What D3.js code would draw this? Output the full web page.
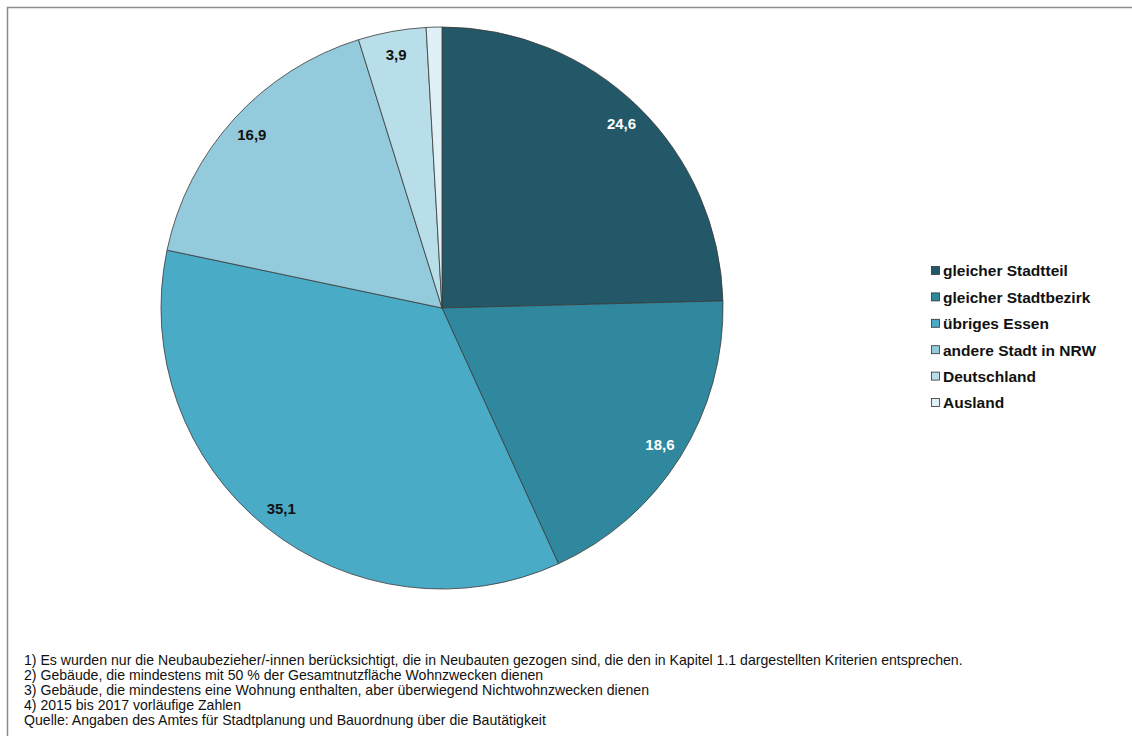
<!DOCTYPE html>
<html>
<head>
<meta charset="utf-8">
<script src="https://cdn.jsdelivr.net/npm/d3@7"></script>
<style>
  body { margin: 0; background: #fff; }
  svg { display: block; font-family: "Liberation Sans", Arial, sans-serif; }
</style>
</head>
<body>
<div id="chart"></div>
<script>
// Data
const categories = ['gleicher Stadtteil', 'gleicher Stadtbezirk', 'übriges Essen', 'andere Stadt in NRW', 'Deutschland', 'Ausland']
const values = [24.6, 18.6, 35.1, 16.9, 3.9, 0.9]
const labels = ['24,6', '18,6', '35,1', '16,9', '3,9', '']
const colors = ['#235868', '#2f889e', '#4aabc6', '#93cbdc', '#b7dee9', '#dff0f6']
const labelColors = ['#fff', '#fff', '#111', '#111', '#111', '#111']
const notes = [
  '1) Es wurden nur die Neubaubezieher/-innen berücksichtigt, die in Neubauten gezogen sind, die den in Kapitel 1.1 dargestellten Kriterien entsprechen.',
  '2) Gebäude, die mindestens mit 50 % der Gesamtnutzfläche Wohnzwecken dienen',
  '3) Gebäude, die mindestens eine Wohnung enthalten, aber überwiegend Nichtwohnzwecken dienen',
  '4) 2015 bis 2017 vorläufige Zahlen',
  'Quelle: Angaben des Amtes für Stadtplanung und Bauordnung über die Bautätigkeit'
]

const total_width = 1132
const total_height = 736

const svg = d3.select('#chart').append('svg')
  .attr('width', total_width)
  .attr('height', total_height)

// frame (only top and left edges visible)
svg.append('rect')
  .attr('x', 7.5)
  .attr('y', 7.5)
  .attr('width', total_width + 20)
  .attr('height', total_height + 20)
  .attr('fill', 'none')
  .attr('stroke', '#8c8c8c')
  .attr('stroke-width', 1.5)

const cx = 442
const cy = 308
const radius = 281

const data = categories.map((c, i) => ({ category: c, value: values[i], label: labels[i], i: i }))

const pie = d3.pie().sort(null).value(d => d.value)
const arc = d3.arc().innerRadius(0).outerRadius(radius)
const labelArc = d3.arc().innerRadius(radius * 0.915).outerRadius(radius * 0.915)

const g = svg.append('g')
  .attr('transform', `translate(${cx}, ${cy})`)

const arcs = pie(data)

g.selectAll('path')
  .data(arcs)
  .enter()
  .append('path')
  .attr('d', arc)
  .attr('fill', d => colors[d.data.i])
  .attr('stroke', '#3a3a3a')
  .attr('stroke-width', 0.8)

g.selectAll('text')
  .data(arcs)
  .enter()
  .append('text')
  .attr('transform', d => `translate(${labelArc.centroid(d)})`)
  .attr('text-anchor', 'middle')
  .attr('dy', '0.35em')
  .attr('font-size', '15px')
  .attr('font-weight', 'bold')
  .attr('fill', d => labelColors[d.data.i])
  .text(d => d.data.label)

// Legend
const legendY = d3.scalePoint()
  .domain(categories)
  .range([271, 403])

const legend = svg.append('g')
  .selectAll('g')
  .data(categories)
  .enter()
  .append('g')
  .attr('transform', d => `translate(931, ${legendY(d)})`)

legend.append('rect')
  .attr('x', 0.5)
  .attr('y', -4.5)
  .attr('width', 8)
  .attr('height', 8)
  .attr('fill', (d, i) => colors[i])
  .attr('stroke', '#333')
  .attr('stroke-width', 0.8)

legend.append('text')
  .attr('x', 12)
  .attr('dy', '0.35em')
  .attr('font-size', '15.5px')
  .attr('font-weight', 'bold')
  .attr('fill', '#111')
  .text(d => d)

// Footnotes
svg.append('g')
  .selectAll('text')
  .data(notes)
  .enter()
  .append('text')
  .attr('x', 24)
  .attr('y', (d, i) => 665 + i * 15)
  .attr('font-size', '14.1px')
  .attr('fill', '#111')
  .text(d => d)
</script>
</body>
</html>
